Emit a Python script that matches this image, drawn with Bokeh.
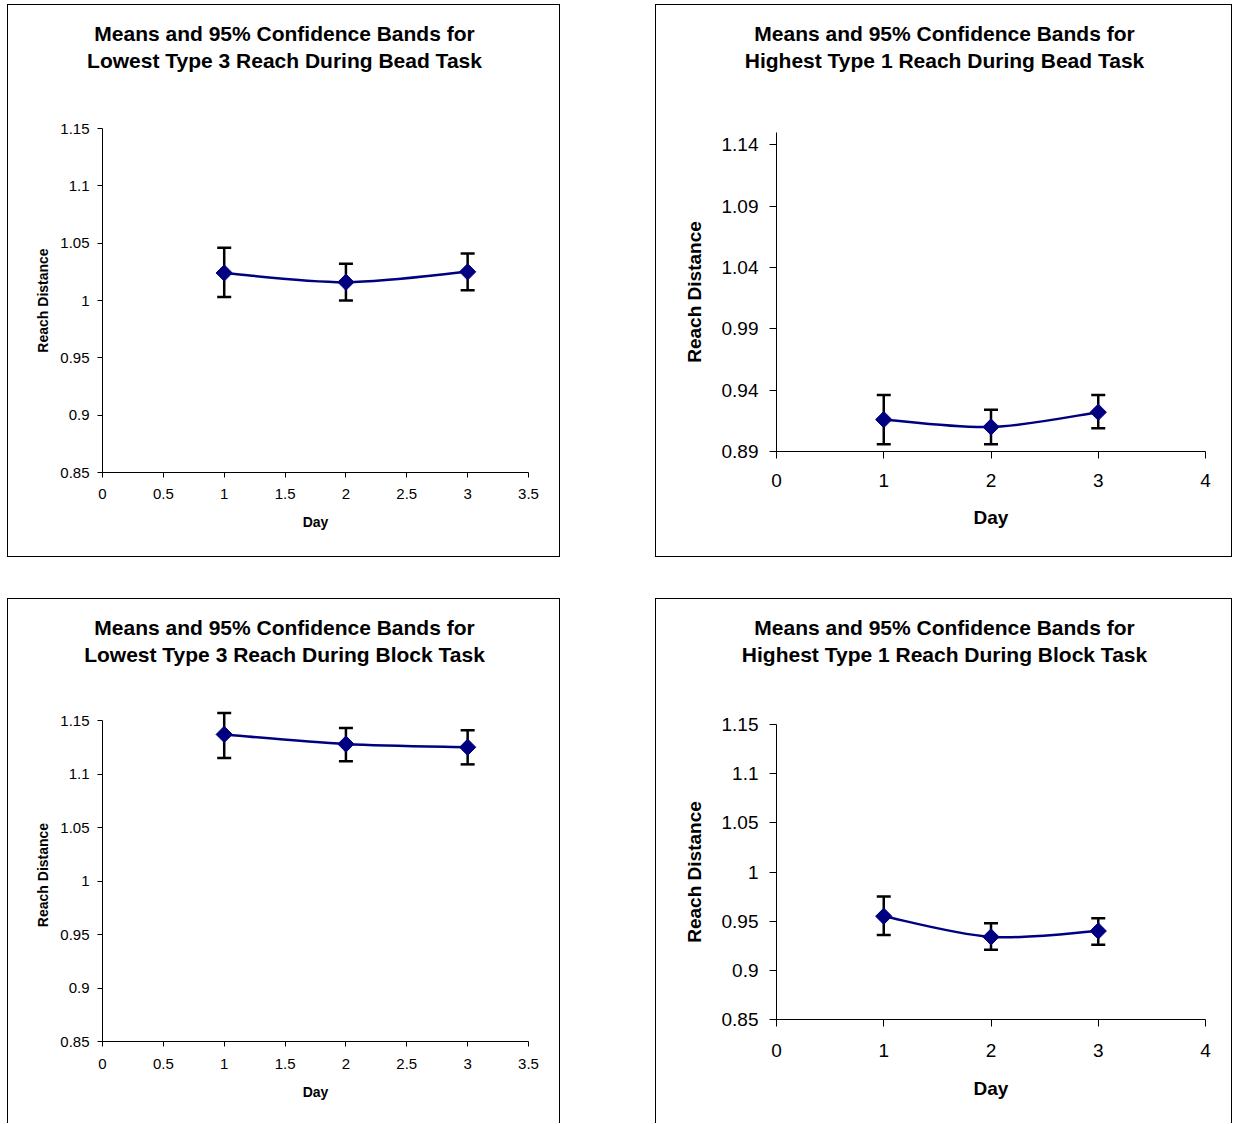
import math
from bokeh.plotting import figure
from bokeh.models import Range1d, FixedTicker, Label, Spacer
from bokeh.layouts import row, column
from bokeh.embed import file_html
from bokeh.resources import INLINE

# ---------------- data ----------------
days = [1, 2, 3]

bead_low_t3_mean = [1.024, 1.016, 1.025]
bead_low_t3_upper = [1.046, 1.032, 1.041]
bead_low_t3_lower = [1.003, 1.000, 1.009]

bead_high_t1_mean = [0.916, 0.910, 0.922]
bead_high_t1_upper = [0.936, 0.924, 0.936]
bead_high_t1_lower = [0.896, 0.896, 0.909]

block_low_t3_mean = [1.137, 1.128, 1.125]
block_low_t3_upper = [1.157, 1.143, 1.141]
block_low_t3_lower = [1.115, 1.112, 1.109]

block_high_t1_mean = [0.955, 0.934, 0.940]
block_high_t1_upper = [0.975, 0.948, 0.953]
block_high_t1_lower = [0.936, 0.921, 0.926]

x_ticks_half = [0, 0.5, 1, 1.5, 2, 2.5, 3, 3.5]
x_labels_half = ["0", "0.5", "1", "1.5", "2", "2.5", "3", "3.5"]
x_ticks_int = [0, 1, 2, 3, 4]
x_labels_int = ["0", "1", "2", "3", "4"]
y_ticks_85 = [0.85, 0.9, 0.95, 1.0, 1.05, 1.1, 1.15]
y_labels_85 = ["0.85", "0.9", "0.95", "1", "1.05", "1.1", "1.15"]
y_ticks_89 = [0.89, 0.94, 0.99, 1.04, 1.09, 1.14]
y_labels_89 = ["0.89", "0.94", "0.99", "1.04", "1.09", "1.14"]

title_line1 = "Means and 95% Confidence Bands for"
titles_line2 = [
    "Lowest Type 3 Reach During Bead Task",
    "Highest Type 1 Reach During Bead Task",
    "Lowest Type 3 Reach During Block Task",
    "Highest Type 1 Reach During Block Task",
]
x_title = "Day"
y_title = "Reach Distance"

FONT = "Liberation Sans"
NAVY = "#000080"
TITLE_PX = 21
TOP_PAD = 14


def smooth_segments(xs, ys):
    n = len(xs)
    out = dict(x0=[], y0=[], x1=[], y1=[], cx0=[], cy0=[], cx1=[], cy1=[])
    for i in range(n - 1):
        pm = i - 1 if i > 0 else i
        pp = i + 2 if i + 2 < n else i + 1
        out["x0"].append(xs[i]); out["y0"].append(ys[i])
        out["x1"].append(xs[i + 1]); out["y1"].append(ys[i + 1])
        out["cx0"].append(xs[i] + (xs[i + 1] - xs[pm]) / 6)
        out["cy0"].append(ys[i] + (ys[i + 1] - ys[pm]) / 6)
        out["cx1"].append(xs[i + 1] - (xs[pp] - xs[i]) / 6)
        out["cy1"].append(ys[i + 1] - (ys[pp] - ys[i]) / 6)
    return out


def make_panel(mean, upper, lower, line2, fig_xy, size, ax_left, ax_right,
               frame_top, ax_top, ax_bot, xr, ybounds,
               xticks, xlabels, yticks, ylabels, tick_px, lab_px, tick_out,
               x_std, y_std, xl_std, yl_std, title_cx, title_cys):
    fx, fy = fig_xy
    w, h = size
    # ---- title strip (its own small figure, frame fills the whole strip)
    th = frame_top - TOP_PAD - fy
    t = figure(width=w, height=th, output_backend="svg", toolbar_location=None,
               x_range=Range1d(0, w), y_range=Range1d(th, 0),
               x_axis_type=None, y_axis_type=None, min_border=0,
               background_fill_color="white", border_fill_color="white")
    t.frame_align = False
    t.outline_line_color = None
    t.grid.visible = False
    for txt, cy in zip((title_line1, line2), title_cys):
        t.add_layout(Label(x=title_cx - fx, y=cy - fy, text=txt,
                           text_align="center", text_baseline="middle",
                           text_font=FONT, text_font_style="bold",
                           text_font_size=f"{TITLE_PX}px", text_color="#000000"))

    # ---- chart
    ph = h - th
    left = ax_left - fx
    right = fx + w - ax_right
    bottom = fy + h - ax_bot
    y0, y1 = ybounds
    y_end = y0 + (y1 - y0) * (ax_bot - frame_top) / (ax_bot - ax_top)

    p = figure(width=w, height=ph, output_backend="svg",
               toolbar_location=None, x_range=Range1d(*xr), y_range=Range1d(y0, y_end),
               min_border_left=left, min_border_right=right,
               min_border_top=TOP_PAD, min_border_bottom=bottom,
               background_fill_color="white", border_fill_color="white")
    p.frame_align = False
    p.outline_line_color = None
    p.xgrid.visible = False
    p.ygrid.visible = False

    for ax in (p.xaxis[0], p.yaxis[0]):
        ax.axis_line_color = "#000000"
        ax.axis_line_width = 1
        ax.major_tick_line_color = "#000000"
        ax.major_tick_in = 0
        ax.major_tick_out = tick_out
        ax.minor_tick_line_color = None
        ax.major_label_text_font = FONT
        ax.major_label_text_font_size = f"{tick_px}px"
        ax.major_label_text_color = "#000000"
        ax.axis_label_text_font = FONT
        ax.axis_label_text_font_style = "bold"
        ax.axis_label_text_font_size = f"{lab_px}px"
        ax.axis_label_text_color = "#000000"

    p.xaxis[0].ticker = FixedTicker(ticks=xticks)
    p.xaxis[0].major_label_overrides = {t_: l for t_, l in zip(xticks, xlabels)}
    p.yaxis[0].ticker = FixedTicker(ticks=yticks)
    p.yaxis[0].major_label_overrides = {t_: l for t_, l in zip(yticks, ylabels)}
    p.yaxis[0].bounds = ybounds
    p.xaxis[0].axis_label = x_title
    p.yaxis[0].axis_label = y_title
    p.xaxis[0].major_label_standoff = x_std
    p.yaxis[0].major_label_standoff = y_std
    p.xaxis[0].axis_label_standoff = xl_std
    p.yaxis[0].axis_label_standoff = yl_std

    # error bars
    p.segment(x0=days, y0=lower, x1=days, y1=upper, line_color="#000000", line_width=2.5)
    p.scatter(x=days, y=upper, marker="dash", size=14, line_color="#000000", line_width=2.5)
    p.scatter(x=days, y=lower, marker="dash", size=14, line_color="#000000", line_width=2.5)
    # smoothed mean line
    seg = smooth_segments(days, mean)
    p.bezier(x0=seg["x0"], y0=seg["y0"], x1=seg["x1"], y1=seg["y1"],
             cx0=seg["cx0"], cy0=seg["cy0"], cx1=seg["cx1"], cy1=seg["cy1"],
             line_color=NAVY, line_width=2.5)
    p.scatter(x=days, y=mean, marker="square", angle=math.pi / 4, size=11.5,
              fill_color=NAVY, line_color=NAVY)

    return column(t, p)


def edge(w, h):
    return Spacer(width=w, height=h, styles={"background-color": "#000000"})


def boxed(c, w, h, bottom_edge=True):
    items = [edge(w + 2, 1), row(edge(1, h), c, edge(1, h))]
    if bottom_edge:
        items.append(edge(w + 2, 1))
    return column(*items)


# placement (page pixels): boxes at x 7..559 and 655..1231, y 4..556 and 598..
c1 = make_panel(bead_low_t3_mean, bead_low_t3_upper, bead_low_t3_lower, titles_line2[0],
                (8, 5), (551, 551), 102, 528, 128, 128, 472, (0, 3.5), (0.85, 1.15),
                x_ticks_half, x_labels_half, y_ticks_85, y_labels_85,
                15, 14, 5, 11, 8, 12, 6, 284, (33, 60))
c2 = make_panel(bead_high_t1_mean, bead_high_t1_upper, bead_high_t1_lower, titles_line2[1],
                (656, 5), (575, 551), 776, 1205, 132, 132, 451, (0, 4), (0.89, 1.15),
                x_ticks_int, x_labels_int, y_ticks_89, y_labels_89,
                19, 19, 7, 15, 11, 17, 14, 944, (33, 60))
c3 = make_panel(block_low_t3_mean, block_low_t3_upper, block_low_t3_lower, titles_line2[2],
                (8, 599), (551, 524), 102, 528, 708, 720, 1041, (0, 3.5), (0.85, 1.15),
                x_ticks_half, x_labels_half, y_ticks_85, y_labels_85,
                15, 14, 5, 12, 8, 12, 6, 284, (627, 654))
c4 = make_panel(block_high_t1_mean, block_high_t1_upper, block_high_t1_lower, titles_line2[3],
                (656, 599), (575, 524), 776, 1205, 724, 724, 1019, (0, 4), (0.85, 1.15),
                x_ticks_int, x_labels_int, y_ticks_85, y_labels_85,
                19, 19, 7, 17, 11, 18, 14, 944, (627, 654))

layout = column(
    Spacer(width=10, height=4),
    row(Spacer(width=7, height=553), boxed(c1, 551, 551),
        Spacer(width=95, height=553), boxed(c2, 575, 551)),
    Spacer(width=10, height=41),
    row(Spacer(width=7, height=525), boxed(c3, 551, 524, False),
        Spacer(width=95, height=525), boxed(c4, 575, 524, False)),
)

open("out.html", "w").write(file_html(layout, INLINE))
